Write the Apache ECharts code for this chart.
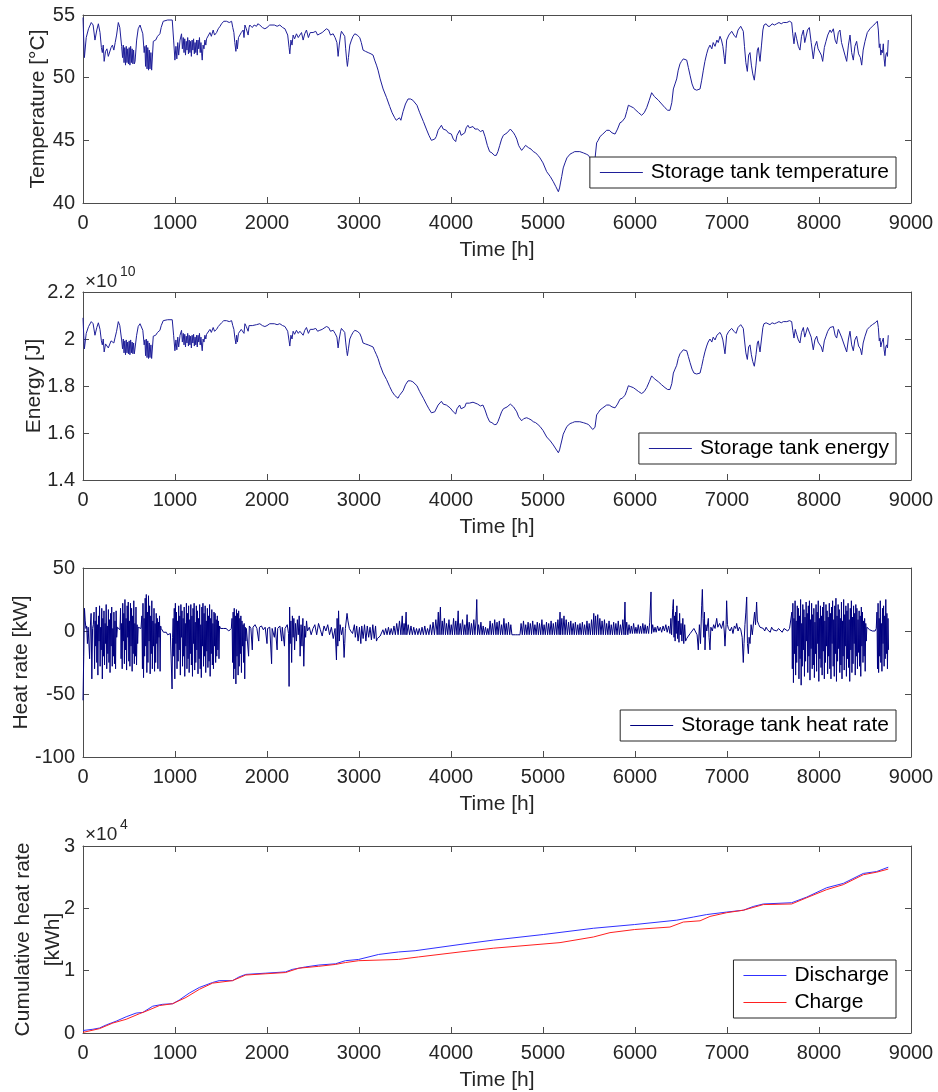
<!DOCTYPE html>
<html>
<head>
<meta charset="utf-8">
<script src="https://cdn.jsdelivr.net/npm/echarts@6/dist/echarts.min.js"></script>
<style>
  html, body { margin: 0; background: #fff; }
  #chart { width: 938px; height: 1092px; }
</style>
</head>
<body>
<div id="chart"></div>
<script>
// time axis shared by all four panels [min, max, interval]
const timeAxis = [0, 9000, 1000];
const tempAxis = [40, 55, 5];
const energyAxis = [1.4, 2.2, 0.2];
const heatAxis = [-100, 50, 50];
const cumAxis = [0, 30000, 10000];

// storage tank temperature [h, degC]
const tempData = [
  [0,54.8],[8,53.0],[15,51.6],[35,53.2],[60,53.9],[90,54.4],[110,54.2],[130,53.0],[150,53.8],[167,54.3],
  [185,53.6],[200,52.4],[210,52.0],[220,52.6],[230,51.3],[245,52.1],[260,52.3],[275,51.7],[290,51.8],[305,52.4],
  [320,52.6],[335,52.2],[350,52.8],[365,53.4],[384,54.4],[400,54.0],[420,52.5],[430,51.6],[438,52.6],[446,51.2],
  [454,52.4],[462,51.0],[470,52.5],[478,51.2],[486,52.3],[494,51.1],[502,52.4],[510,51.0],[518,52.5],[526,51.2],
  [534,52.3],[542,51.1],[550,52.2],[558,51.1],[566,51.3],[583,53.0],[600,53.9],[620,54.2],[637,54.3],[650,53.5],
  [665,52.0],[673,52.5],[680,50.9],[688,52.6],[696,50.7],[704,52.4],[712,50.6],[720,52.2],[728,50.7],[738,52.0],
  [746,50.6],[764,52.9],[790,53.0],[810,53.3],[836,53.5],[850,54.0],[872,54.5],[920,54.6],[970,54.6],[985,53.0],
  [999,51.4],[1010,52.5],[1020,51.5],[1030,52.8],[1040,51.8],[1055,53.0],[1071,53.5],[1080,52.3],[1090,53.2],[1098,52.0],
  [1106,53.1],[1114,51.8],[1122,52.9],[1130,52.2],[1138,53.2],[1146,51.9],[1154,53.0],[1162,52.0],[1170,52.9],[1178,51.7],
  [1186,53.0],[1194,52.2],[1202,53.1],[1210,51.9],[1218,52.8],[1226,52.0],[1234,53.0],[1242,51.8],[1250,53.0],[1258,52.3],
  [1266,53.2],[1274,52.0],[1282,52.8],[1290,51.9],[1296,51.4],[1305,52.6],[1315,52.3],[1325,53.0],[1335,52.6],[1343,53.1],
  [1361,53.2],[1380,53.6],[1395,53.3],[1415,53.8],[1430,53.4],[1452,53.6],[1470,53.9],[1490,54.1],[1506,54.3],[1530,54.5],
  [1560,54.5],[1590,54.4],[1615,54.5],[1628,54.0],[1640,53.6],[1650,52.8],[1662,52.1],[1670,53.0],[1678,52.3],[1690,53.2],
  [1705,53.1],[1720,53.6],[1741,53.8],[1750,53.2],[1760,54.2],[1775,53.9],[1795,53.4],[1805,54.0],[1813,54.2],[1840,54.0],
  [1860,54.2],[1886,54.1],[1900,54.3],[1922,54.2],[1950,54.0],[1977,53.9],[2000,54.0],[2030,54.2],[2049,54.3],[2080,54.2],
  [2110,54.1],[2139,54.2],[2170,54.0],[2195,53.9],[2212,53.8],[2225,53.4],[2240,52.4],[2248,51.9],[2260,53.0],[2272,52.6],
  [2284,53.4],[2300,53.1],[2320,53.5],[2340,53.2],[2357,53.4],[2375,53.6],[2393,53.0],[2410,53.5],[2429,53.8],[2450,53.2],
  [2470,53.6],[2501,53.6],[2530,53.7],[2550,53.4],[2574,53.5],[2600,53.6],[2620,53.7],[2646,53.9],[2670,53.8],[2690,53.4],
  [2719,53.5],[2740,53.2],[2760,52.8],[2773,51.7],[2785,52.6],[2800,53.4],[2809,53.7],[2825,53.6],[2845,53.3],[2855,52.3],
  [2866,51.4],[2874,50.9],[2885,51.6],[2900,52.6],[2918,53.0],[2935,53.3],[2954,53.5],[2980,53.4],[3008,53.2],[3025,52.8],
  [3044,52.2],[3070,52.1],[3100,52.0],[3130,51.9],[3153,51.8],[3170,51.4],[3190,51.0],[3207,50.6],[3230,49.9],[3262,49.1],
  [3300,48.4],[3334,47.7],[3360,47.2],[3388,46.8],[3405,46.6],[3424,46.5],[3440,46.8],[3455,46.6],[3479,47.3],[3505,47.9],
  [3533,48.3],[3560,48.3],[3585,48.2],[3606,48.2],[3630,47.8],[3660,47.2],[3700,46.5],[3732,45.9],[3760,45.4],[3787,45.0],
  [3805,44.9],[3823,45.1],[3840,45.3],[3860,45.8],[3880,45.7],[3896,46.2],[3915,45.9],[3935,46.0],[3950,45.8],[3970,45.6],
  [3990,45.5],[4004,45.5],[4025,45.1],[4040,45.0],[4051,44.9],[4065,45.4],[4080,45.3],[4094,45.8],[4110,45.4],[4130,45.3],
  [4150,45.6],[4165,46.0],[4184,46.2],[4200,46.0],[4220,46.1],[4239,46.1],[4260,45.9],[4290,45.9],[4320,45.7],[4347,45.8],
  [4370,45.3],[4395,44.6],[4420,44.1],[4445,44.0],[4470,43.8],[4492,43.8],[4510,44.1],[4530,44.6],[4550,45.1],[4569,45.4],
  [4590,45.4],[4610,45.6],[4630,45.6],[4645,45.9],[4660,45.8],[4680,45.6],[4696,45.4],[4715,45.1],[4735,44.6],[4750,44.4],
  [4768,44.2],[4790,44.4],[4810,44.6],[4823,44.5],[4845,44.4],[4870,44.3],[4895,44.1],[4920,44.0],[4945,43.8],[4967,43.6],
  [5000,43.2],[5040,42.5],[5080,42.1],[5112,41.7],[5140,41.3],[5167,40.9],[5180,41.2],[5190,41.6],[5203,42.1],[5220,42.8],
  [5239,43.2],[5260,43.6],[5294,43.9],[5320,44.0],[5345,44.1],[5366,44.1],[5400,44.1],[5438,44.0],[5470,43.9],[5495,43.8],
  [5511,43.6],[5540,43.3],[5565,43.5],[5583,44.8],[5600,45.0],[5620,45.3],[5650,45.5],[5692,45.8],[5720,45.8],[5750,45.6],
  [5783,45.5],[5810,45.9],[5837,46.4],[5860,46.5],[5891,46.8],[5910,47.3],[5928,47.8],[5955,47.7],[5982,47.6],[6010,47.4],
  [6040,47.2],[6072,47.0],[6100,47.2],[6127,47.6],[6155,48.2],[6181,48.8],[6210,48.5],[6254,48.2],[6290,47.9],[6326,47.6],
  [6355,47.4],[6380,47.4],[6400,48.0],[6417,49.1],[6435,49.5],[6453,49.9],[6470,50.6],[6489,51.1],[6505,51.3],[6525,51.5],
  [6545,51.5],[6562,51.4],[6580,50.8],[6598,50.2],[6620,49.5],[6641,49.1],[6670,49.0],[6707,49.1],[6725,49.8],[6743,50.6],
  [6760,51.3],[6779,51.9],[6795,52.3],[6815,52.6],[6835,52.3],[6850,52.8],[6870,52.5],[6890,53.0],[6905,52.8],[6924,53.3],
  [6940,53.0],[6955,52.5],[6970,51.6],[6978,51.1],[6990,52.3],[6996,53.0],[7020,53.4],[7051,53.7],[7075,53.4],[7098,53.2],
  [7120,53.8],[7149,54.1],[7165,54.0],[7177,53.7],[7190,52.5],[7205,51.2],[7221,50.5],[7235,51.8],[7250,52.0],[7265,51.0],
  [7280,50.3],[7297,49.8],[7315,51.0],[7330,52.2],[7341,52.4],[7350,51.8],[7359,51.3],[7375,52.6],[7390,53.8],[7402,54.2],
  [7425,54.3],[7445,54.1],[7467,54.1],[7490,54.3],[7515,54.2],[7540,54.3],[7565,54.4],[7590,54.3],[7612,54.4],[7650,54.4],
  [7680,54.5],[7703,54.4],[7715,53.5],[7728,52.7],[7742,53.6],[7757,53.1],[7775,52.5],[7793,52.2],[7810,53.3],[7830,53.8],
  [7845,52.8],[7859,52.9],[7875,53.8],[7895,54.0],[7915,52.8],[7938,51.5],[7955,52.5],[7975,52.9],[7990,52.3],[8011,52.2],
  [8025,51.8],[8040,51.3],[8058,52.4],[8076,52.9],[8095,53.4],[8120,53.8],[8135,53.6],[8156,53.9],[8175,53.0],[8192,52.7],
  [8210,53.6],[8228,53.8],[8245,52.8],[8264,52.9],[8282,51.8],[8301,51.3],[8320,52.6],[8337,53.4],[8355,52.0],[8373,51.4],
  [8390,52.5],[8409,52.9],[8430,51.9],[8450,51.6],[8464,51.0],[8480,52.2],[8500,52.9],[8525,53.6],[8554,53.9],[8580,54.1],
  [8610,54.3],[8634,54.5],[8645,53.8],[8655,52.4],[8663,52.7],[8672,51.8],[8681,52.2],[8690,52.0],[8699,52.7],[8708,51.5],
  [8717,50.9],[8726,51.8],[8735,52.0],[8744,51.7],[8753,53.0]
];

// storage tank energy [h, x1e10 J]
const energyData = [
  [0,2.090],[8,2.016],[15,1.958],[35,2.024],[60,2.053],[90,2.074],[110,2.065],[130,2.016],[150,2.049],[167,2.069],
  [185,2.041],[200,1.992],[210,1.975],[220,2.000],[230,1.945],[245,1.979],[260,1.987],[275,1.962],[290,1.966],[305,1.992],
  [320,2.000],[335,1.983],[350,2.008],[365,2.033],[384,2.074],[400,2.057],[420,1.996],[430,1.958],[438,2.000],[446,1.941],
  [454,1.992],[462,1.933],[470,1.996],[478,1.941],[486,1.987],[494,1.937],[502,1.992],[510,1.933],[518,1.996],[526,1.941],
  [534,1.987],[542,1.937],[550,1.983],[558,1.937],[566,1.945],[583,2.016],[600,2.053],[620,2.065],[637,2.069],[650,2.037],
  [665,1.975],[673,1.996],[680,1.929],[688,2.000],[696,1.921],[704,1.992],[712,1.917],[720,1.983],[728,1.921],[738,1.975],
  [746,1.917],[764,2.012],[790,2.016],[810,2.028],[836,2.037],[850,2.057],[872,2.078],[920,2.082],[970,2.082],[985,2.016],
  [999,1.950],[1010,1.996],[1020,1.954],[1030,2.008],[1040,1.966],[1055,2.016],[1071,2.037],[1080,1.987],[1090,2.024],[1098,1.975],
  [1106,2.020],[1114,1.966],[1122,2.012],[1130,1.983],[1138,2.024],[1146,1.970],[1154,2.016],[1162,1.975],[1170,2.012],[1178,1.962],
  [1186,2.016],[1194,1.983],[1202,2.020],[1210,1.970],[1218,2.008],[1226,1.975],[1234,2.016],[1242,1.966],[1250,2.016],[1258,1.987],
  [1266,2.024],[1274,1.975],[1282,2.008],[1290,1.970],[1296,1.950],[1305,2.000],[1315,1.987],[1325,2.016],[1335,2.000],[1343,2.020],
  [1361,2.024],[1380,2.041],[1395,2.028],[1415,2.049],[1430,2.033],[1452,2.041],[1470,2.053],[1490,2.061],[1506,2.069],[1530,2.078],
  [1560,2.078],[1590,2.074],[1615,2.078],[1628,2.057],[1640,2.041],[1650,2.008],[1662,1.979],[1670,2.016],[1678,1.987],[1690,2.024],
  [1705,2.020],[1720,2.041],[1741,2.049],[1750,2.024],[1760,2.065],[1775,2.053],[1795,2.033],[1805,2.057],[1813,2.065],[1840,2.057],
  [1860,2.065],[1886,2.061],[1900,2.069],[1922,2.065],[1950,2.057],[1977,2.053],[2000,2.057],[2030,2.065],[2049,2.069],[2080,2.065],
  [2110,2.061],[2139,2.065],[2170,2.057],[2195,2.053],[2212,2.049],[2225,2.033],[2240,1.992],[2248,1.970],[2260,2.016],[2272,2.000],
  [2284,2.033],[2300,2.020],[2320,2.037],[2340,2.024],[2357,2.033],[2375,2.041],[2393,2.016],[2410,2.037],[2429,2.049],[2450,2.024],
  [2470,2.041],[2501,2.041],[2530,2.045],[2550,2.033],[2574,2.037],[2600,2.041],[2620,2.045],[2646,2.053],[2670,2.049],[2690,2.033],
  [2719,2.037],[2740,2.024],[2760,2.008],[2773,1.962],[2785,2.000],[2800,2.033],[2809,2.045],[2825,2.041],[2845,2.028],[2855,1.987],
  [2866,1.950],[2874,1.929],[2885,1.958],[2900,2.000],[2918,2.016],[2935,2.028],[2954,2.037],[2980,2.033],[3008,2.024],[3025,2.008],
  [3044,1.983],[3070,1.979],[3100,1.975],[3130,1.970],[3153,1.966],[3170,1.950],[3190,1.933],[3207,1.917],[3230,1.888],[3262,1.855],
  [3300,1.827],[3334,1.797],[3360,1.776],[3388,1.760],[3405,1.752],[3424,1.748],[3440,1.760],[3455,1.752],[3479,1.780],[3505,1.805],
  [3533,1.822],[3560,1.822],[3585,1.818],[3606,1.818],[3630,1.801],[3660,1.776],[3700,1.748],[3732,1.723],[3760,1.703],[3787,1.686],
  [3805,1.681],[3823,1.690],[3840,1.698],[3860,1.719],[3880,1.715],[3896,1.735],[3915,1.723],[3935,1.727],[3950,1.719],[3970,1.711],
  [3990,1.707],[4004,1.707],[4025,1.690],[4040,1.686],[4051,1.681],[4065,1.703],[4080,1.698],[4094,1.719],[4110,1.703],[4130,1.698],
  [4150,1.711],[4165,1.727],[4184,1.735],[4200,1.727],[4220,1.731],[4239,1.731],[4260,1.723],[4290,1.723],[4320,1.715],[4347,1.719],
  [4370,1.698],[4395,1.669],[4420,1.648],[4445,1.644],[4470,1.636],[4492,1.636],[4510,1.648],[4530,1.669],[4550,1.690],[4569,1.703],
  [4590,1.703],[4610,1.711],[4630,1.711],[4645,1.723],[4660,1.719],[4680,1.711],[4696,1.703],[4715,1.690],[4735,1.669],[4750,1.661],
  [4768,1.652],[4790,1.661],[4810,1.669],[4823,1.665],[4845,1.661],[4870,1.656],[4895,1.648],[4920,1.644],[4945,1.636],[4967,1.628],
  [5000,1.611],[5040,1.583],[5080,1.566],[5112,1.549],[5140,1.532],[5167,1.516],[5180,1.528],[5190,1.545],[5203,1.566],[5220,1.595],
  [5239,1.611],[5260,1.628],[5294,1.640],[5320,1.644],[5345,1.648],[5366,1.648],[5400,1.648],[5438,1.644],[5470,1.640],[5495,1.636],
  [5511,1.628],[5540,1.615],[5565,1.624],[5583,1.677],[5600,1.686],[5620,1.698],[5650,1.707],[5692,1.719],[5720,1.719],[5750,1.711],
  [5783,1.707],[5810,1.723],[5837,1.744],[5860,1.748],[5891,1.760],[5910,1.780],[5928,1.801],[5955,1.797],[5982,1.793],[6010,1.785],
  [6040,1.776],[6072,1.768],[6100,1.776],[6127,1.793],[6155,1.818],[6181,1.843],[6210,1.831],[6254,1.818],[6290,1.805],[6326,1.793],
  [6355,1.785],[6380,1.785],[6400,1.810],[6417,1.855],[6435,1.872],[6453,1.888],[6470,1.917],[6489,1.937],[6505,1.945],[6525,1.954],
  [6545,1.954],[6562,1.950],[6580,1.925],[6598,1.900],[6620,1.872],[6641,1.855],[6670,1.851],[6707,1.855],[6725,1.884],[6743,1.917],
  [6760,1.945],[6779,1.970],[6795,1.987],[6815,2.000],[6835,1.987],[6850,2.008],[6870,1.996],[6890,2.016],[6905,2.008],[6924,2.028],
  [6940,2.016],[6955,1.996],[6970,1.958],[6978,1.937],[6990,1.987],[6996,2.016],[7020,2.033],[7051,2.045],[7075,2.033],[7098,2.024],
  [7120,2.049],[7149,2.061],[7165,2.057],[7177,2.045],[7190,1.996],[7205,1.941],[7221,1.913],[7235,1.966],[7250,1.975],[7265,1.933],
  [7280,1.904],[7297,1.884],[7315,1.933],[7330,1.983],[7341,1.992],[7350,1.966],[7359,1.945],[7375,2.000],[7390,2.049],[7402,2.065],
  [7425,2.069],[7445,2.061],[7467,2.061],[7490,2.069],[7515,2.065],[7540,2.069],[7565,2.074],[7590,2.069],[7612,2.074],[7650,2.074],
  [7680,2.078],[7703,2.074],[7715,2.037],[7728,2.004],[7742,2.041],[7757,2.020],[7775,1.996],[7793,1.983],[7810,2.028],[7830,2.049],
  [7845,2.008],[7859,2.012],[7875,2.049],[7895,2.057],[7915,2.008],[7938,1.954],[7955,1.996],[7975,2.012],[7990,1.987],[8011,1.983],
  [8025,1.966],[8040,1.945],[8058,1.992],[8076,2.012],[8095,2.033],[8120,2.049],[8135,2.041],[8156,2.053],[8175,2.016],[8192,2.004],
  [8210,2.041],[8228,2.049],[8245,2.008],[8264,2.012],[8282,1.966],[8301,1.945],[8320,2.000],[8337,2.033],[8355,1.975],[8373,1.950],
  [8390,1.996],[8409,2.012],[8430,1.970],[8450,1.958],[8464,1.933],[8480,1.983],[8500,2.012],[8525,2.041],[8554,2.053],[8580,2.061],
  [8610,2.069],[8634,2.078],[8645,2.049],[8655,1.992],[8663,2.004],[8672,1.966],[8681,1.983],[8690,1.975],[8699,2.004],[8708,1.954],
  [8717,1.929],[8726,1.966],[8735,1.975],[8744,1.962],[8753,2.016]
];

// storage tank heat rate [h, kW]
const heatData = [
  [0,-55],[8,-20],[16,18],[24,8],[32,2],[40,4],[48,-10],[56,3],[64,2],[72,-22],[80,4],[88,14],[96,-38],[104,2],[112,5],
  [120,15],[126,-30],[132,8],[138,-12],[144,19],[150,-25],[156,5],[162,-35],[168,12],[174,-8],[180,20],[186,-28],[192,3],[198,-15],
  [204,18],[210,-38],[216,10],[222,-20],[228,16],[234,-27],[240,6],[246,-10],[252,21],[258,-30],[264,4],[270,-18],[276,17],[282,-25],
  [288,9],[294,-33],[300,14],[306,-12],[312,19],[318,-28],[324,2],[330,-20],[336,15],[342,-26],[348,8],[354,-30],[360,16],[366,-5],
  [374,3],[384,2],[394,4],[402,1],
  [408,18],[414,-22],[420,6],[426,-30],[432,22],[438,-8],[444,14],[450,-26],[456,25],[462,-15],[468,10],[474,-31],[480,20],[486,-5],
  [492,23],[498,-24],[504,8],[510,-28],[516,22],[522,-12],[528,18],[534,-32],[540,12],[546,-18],[552,24],[558,-26],[564,6],[570,-20],
  [576,19],[582,-27],[588,5],[594,-10],[600,3],[610,2],[620,3],[630,2],
  [640,12],[646,-30],[652,22],[658,-37],[664,10],[670,-20],[676,26],[682,-12],[688,29],[694,-33],[700,15],[706,-25],[712,28],[718,-8],
  [724,20],[730,-34],[736,12],[742,-18],[748,24],[754,-30],[760,8],[766,-12],[772,18],[778,-32],[784,6],[790,-25],[796,14],[802,-10],
  [808,10],[814,-30],[820,7],[826,-5],[832,12],[838,-32],[844,4],[850,2],
  [860,1],[875,-1],[890,-2],[905,-1],[920,-3],[935,-2],[950,-2],[962,-1],[968,-46],[974,-5],
  [980,10],[986,-20],[992,18],[998,-38],[1004,22],[1010,-10],[1016,15],[1022,-30],[1028,8],[1034,-24],[1040,20],[1046,-15],[1052,12],
  [1058,-35],[1064,21],[1070,-5],[1076,16],[1082,-28],[1088,10],[1094,-20],[1100,19],[1106,-36],[1112,6],[1118,-12],[1124,22],[1130,-30],
  [1136,14],[1142,-22],[1148,20],[1154,-33],[1160,9],[1166,-18],[1172,21],[1178,-27],[1184,12],[1190,-36],[1196,18],[1202,-10],[1208,22],
  [1214,-31],[1220,7],[1226,-25],[1232,20],[1238,-15],[1244,16],[1250,-34],[1256,10],[1262,-22],[1268,21],[1274,-30],[1280,5],[1286,-37],
  [1292,19],[1298,-12],[1304,22],[1310,-28],[1316,14],[1322,-20],[1328,20],[1334,-33],[1340,8],[1346,-16],[1352,18],[1358,-29],[1364,12],
  [1370,-24],[1376,21],[1382,-36],[1388,10],[1394,-18],[1400,17],[1406,-27],[1412,6],[1418,-30],[1424,15],[1430,-12],[1436,14],[1442,-25],
  [1448,9],[1454,-20],[1460,12],[1466,-15],[1472,8],[1478,-22],[1484,4],
  [1495,2],[1510,3],[1525,2],[1540,1],[1555,2],[1570,1],[1585,0],[1600,1],[1612,2],
  [1620,10],[1626,-25],[1632,15],[1638,-38],[1644,18],[1650,-30],[1656,12],[1662,-42],[1668,17],[1674,-20],[1680,14],[1686,-35],[1692,16],
  [1698,-28],[1704,10],[1710,-18],[1716,12],[1722,-33],[1728,8],[1734,-12],[1740,5],[1746,-25],[1752,6],[1758,-38],[1764,3],[1770,-8],[1776,2],
  [1790,3],[1800,-20],[1808,4],[1825,2],[1840,-15],[1848,3],[1870,5],[1890,2],[1910,-8],[1918,3],[1940,4],[1960,1],[1980,3],[2000,-10],
  [2006,2],[2030,3],[2050,-26],[2056,2],[2080,-5],[2090,3],[2110,-15],[2116,2],[2140,4],[2160,-8],[2166,3],[2190,-12],[2196,2],[2220,5],
  [2234,-2],[2240,-44],[2246,19],[2252,-10],[2260,8],[2268,-25],[2276,12],[2284,-5],[2292,10],[2300,-15],[2310,6],[2320,-8],[2330,9],
  [2340,-3],[2350,12],[2360,-20],[2370,5],[2380,-12],[2390,10],[2400,-28],[2410,4],[2420,-5],[2430,8],[2440,0],[2460,3],[2480,-3],[2500,2],
  [2520,5],[2540,-3],[2560,6],[2580,1],[2600,-4],[2620,4],[2640,0],[2660,5],[2680,-3],[2700,3],[2720,-6],[2740,2],
  [2755,-23],[2762,10],[2770,-12],[2778,16],[2786,-8],[2795,5],[2810,-3],[2825,3],[2838,-21],[2845,-10],[2852,2],[2870,14],[2880,8],
  [2895,2],[2910,0],[2930,-2],[2950,5],[2960,-5],[2975,4],[2990,-8],[3005,3],[3020,-10],[3030,4],[3045,-6],[3060,5],[3075,-8],[3090,4],
  [3105,-5],[3120,3],[3135,-7],[3150,5],[3165,-6],[3180,4],[3190,-8],[3200,-6],[3215,-5],[3230,-4],
  [3245,-3],[3260,1],[3275,-3],[3290,2],[3305,-3],[3320,3],[3335,-3],[3350,2],[3365,-3],[3380,4],[3395,-3],[3410,6],[3425,-3],[3440,8],
  [3455,-3],[3470,12],[3478,-3],[3490,6],[3500,-3],[3512,15],[3520,-3],[3535,5],[3550,-3],[3565,4],[3580,-3],[3595,3],[3610,-3],[3625,2],
  [3640,-3],[3655,2],[3670,-3],[3685,3],[3700,-3],[3715,4],[3730,-3],[3745,2],[3760,-3],[3775,5],[3790,-3],[3805,7],[3820,-3],[3835,9],
  [3850,-3],[3862,15],[3870,-3],[3885,19],[3892,-3],[3905,8],[3915,-3],[3928,10],[3940,-3],[3952,6],[3965,-3],[3978,9],[3990,-3],[4003,5],
  [4015,-3],[4028,10],[4040,-3],[4052,8],[4065,-3],[4078,16],[4086,-3],[4100,6],[4112,-3],[4125,9],[4138,-3],[4150,5],[4162,-3],[4175,13],
  [4184,-3],[4198,7],[4210,-3],[4222,6],[4235,-3],[4248,9],[4260,-3],[4272,8],[4280,25],[4288,-3],[4300,5],[4312,-3],[4325,7],[4338,-3],
  [4350,4],[4362,-3],[4375,3],[4388,-3],[4400,2],[4412,-3],[4425,8],[4438,-3],[4450,6],[4462,-3],[4475,9],[4488,-3],[4500,7],[4512,-3],
  [4525,8],[4538,-3],[4550,5],[4562,-3],[4575,10],[4588,-3],[4600,6],[4612,-3],[4625,7],[4638,-3],[4650,5],[4662,-3],[4675,-3],[4700,-3],
  [4725,-3],[4750,-3],[4762,6],[4775,-3],[4788,8],[4800,-3],[4812,5],[4825,-3],[4838,7],[4850,-3],[4862,6],[4875,-3],[4888,8],[4900,-3],
  [4912,5],[4925,-3],[4938,7],[4950,-3],[4962,6],[4975,-3],[4988,9],[5000,-3],[5012,5],[5025,-3],[5038,7],[5050,-3],[5062,6],[5075,-3],
  [5088,8],[5100,-3],[5112,6],[5125,-3],[5138,7],[5150,-3],[5162,9],[5175,-3],[5185,15],[5192,-3],[5205,10],[5215,-3],[5228,12],[5240,-3],
  [5252,9],[5265,-3],[5278,7],[5290,-3],[5302,8],[5315,-3],[5328,6],[5340,-3],[5352,7],[5365,-3],[5378,5],[5390,-3],[5402,6],[5415,-3],
  [5428,7],[5440,-3],[5452,5],[5465,-3],[5478,8],[5490,-3],[5502,6],[5515,-3],[5528,9],[5540,-3],[5552,14],[5560,-3],[5572,12],[5582,-3],
  [5595,13],[5605,-3],[5618,10],[5630,-3],[5642,8],[5655,-3],[5668,9],[5680,-3],[5692,6],[5705,-3],[5718,8],[5730,-3],[5742,5],[5755,-3],
  [5768,7],[5780,-3],[5792,6],[5805,-3],[5818,8],[5830,-3],[5842,5],[5855,-3],[5868,9],[5880,-3],[5891,23],[5898,-3],[5910,7],[5922,-3],
  [5935,5],[5948,-2],[5960,4],[5972,-2],[5985,6],[5998,-2],[6010,3],[6022,-2],[6035,5],[6048,-2],[6060,4],[6072,-2],[6085,6],[6098,-2],
  [6110,5],[6122,-2],[6135,4],[6148,-2],[6160,7],[6174,31],[6180,-2],[6192,5],[6205,-1],[6218,3],[6230,-1],[6245,4],[6260,0],[6275,3],
  [6290,-1],[6305,4],[6320,0],[6335,5],[6350,-1],[6365,4],[6380,-2],[6390,10],[6398,-3],[6410,18],[6417,25],[6424,-5],[6430,12],[6436,-8],
  [6442,15],[6448,-2],[6455,20],[6462,-6],[6470,8],[6478,-9],[6485,14],[6492,-3],[6500,6],[6510,-8],[6520,10],[6530,-10],[6540,5],[6550,-8],
  [6562,-6],[6580,-4],[6600,-2],[6620,0],[6640,2],[6660,3],[6675,-3],[6688,-15],[6700,5],[6712,-10],[6725,20],[6732,33],[6740,10],[6748,-5],
  [6755,15],[6761,-15],[6770,5],[6780,0],[6797,10],[6805,-5],[6815,-15],[6825,3],[6840,0],[6855,5],[6870,2],[6888,10],[6900,3],[6920,6],
  [6940,2],[6960,8],[6970,0],[6978,-12],[6990,5],[6996,24],[7005,5],[7015,2],[7033,0],[7050,3],[7065,-2],[7080,4],[7095,2],[7105,6],
  [7120,0],[7135,3],[7150,1],[7165,-5],[7177,-25],[7185,-10],[7195,5],[7205,15],[7214,27],[7222,-10],[7232,-18],[7240,-5],[7250,-10],
  [7262,5],[7275,-3],[7290,8],[7300,15],[7310,5],[7322,23],[7330,8],[7345,5],[7359,3],[7375,2],[7395,2],[7410,0],[7425,3],[7440,1],
  [7455,2],[7470,-1],[7485,3],[7500,1],[7520,2],[7540,0],[7560,2],[7580,1],[7600,-1],[7620,2],[7640,1],[7660,0],[7680,2],[7695,1],
  [7705,15],[7710,-30],[7716,22],[7722,-41],[7728,10],[7734,-18],[7740,24],[7746,-35],[7752,8],[7758,-25],[7764,20],[7770,-12],[7776,18],
  [7782,-38],[7788,12],[7794,-22],[7800,25],[7806,-43],[7812,6],[7818,-28],[7824,21],[7830,-15],[7836,17],[7842,-36],[7848,11],[7854,-24],
  [7860,23],[7866,-8],[7872,14],[7878,-33],[7884,20],[7890,-20],[7896,24],[7902,-39],[7908,9],[7914,-14],[7920,22],[7926,-30],[7932,13],
  [7938,-27],[7944,18],[7950,-37],[7956,7],[7962,-18],[7968,21],[7974,-32],[7980,15],[7986,-10],[7992,24],[7998,-40],[8004,10],[8010,-22],
  [8016,20],[8022,-29],[8028,12],[8034,-35],[8040,19],[8046,-16],[8052,23],[8058,-38],[8064,8],[8070,-25],[8076,21],[8082,-12],[8088,16],
  [8094,-34],[8100,11],[8106,-20],[8112,22],[8118,-30],[8124,14],[8130,-38],[8136,19],[8142,-10],[8148,24],[8154,-28],[8160,9],[8166,-36],
  [8172,20],[8178,-18],[8184,26],[8190,-40],[8196,12],[8202,-24],[8208,21],[8214,-14],[8220,17],[8226,-33],[8232,10],[8238,-27],[8244,23],
  [8250,-38],[8256,8],[8262,-20],[8268,25],[8274,-31],[8280,13],[8286,-12],[8292,20],[8298,-36],[8304,16],[8310,-22],[8316,22],[8322,-29],
  [8328,9],[8334,-40],[8340,18],[8346,-15],[8352,24],[8358,-33],[8364,11],[8370,-26],[8376,20],[8382,-10],[8388,14],[8394,-35],[8400,21],
  [8406,-20],[8412,18],[8418,-30],[8424,9],[8430,-17],[8436,16],[8442,-28],[8448,12],[8454,-36],[8460,19],[8466,-12],[8472,15],[8478,-25],
  [8484,8],[8490,-20],[8496,10],[8502,-32],[8508,6],[8514,-8],[8520,3],
  [8535,2],[8550,1],[8565,2],[8580,0],[8595,1],[8610,0],[8622,2],
  [8630,15],[8636,-30],[8642,22],[8648,-33],[8654,10],[8660,-20],[8666,24],[8672,-25],[8678,6],[8684,-32],[8690,18],[8696,-10],[8702,20],
  [8708,-28],[8714,12],[8720,-22],[8726,25],[8732,-18],[8738,14],[8744,-30],[8750,10],[8756,-15]
];

// cumulative heat [h, kWh]
const dischargeData = [
  [0,400],[108,600],[180,800],[253,1300],[361,1900],[469,2600],[578,3200],[650,3300],[758,4300],[866,4600],
  [975,4700],[1047,5300],[1155,6400],[1264,7300],[1408,8100],[1480,8400],[1625,8400],[1697,9000],[1769,9400],[1986,9600],
  [2202,9800],[2274,10200],[2419,10600],[2563,10900],[2744,11100],[2852,11600],[2996,11800],[3213,12600],[3430,13000],[3610,13200],
  [4098,14200],[4460,14900],[5004,15800],[5547,16800],[5996,17400],[6453,18100],[6634,18600],[6779,19000],[6996,19400],[7178,19700],
  [7286,20300],[7395,20700],[7703,20900],[7866,21800],[8083,23300],[8264,24000],[8482,25600],[8627,25900],[8753,26600]
];
const chargeData = [
  [0,100],[180,700],[325,1600],[469,2200],[614,3100],[686,3500],[830,4400],[975,4700],[1119,5700],[1264,7000],
  [1408,8000],[1625,8400],[1769,9300],[2202,9700],[2347,10400],[2563,10700],[2744,11000],[2852,11300],[2996,11600],[3430,11800],
  [3646,12200],[4098,13000],[4460,13600],[5185,14500],[5547,15400],[5728,16100],[5996,16600],[6380,17000],[6525,17800],[6707,18000],
  [6815,18700],[6996,19300],[7178,19700],[7395,20600],[7703,20700],[7866,21700],[8083,23000],[8264,23800],[8482,25400],[8627,25800],
  [8753,26300]
];

const FONT = "'Liberation Sans', Arial, Helvetica, sans-serif";
const AXIS_COLOR = "#4d4d4d";
const TEXT_COLOR = "#262626";

const gridTops = [15, 292, 568, 846];
const gridHeights = [188, 188, 189, 187];

const grids = gridTops.map((t, i) => ({
  left: 83, width: 828, top: t, height: gridHeights[i],
  containLabel: false, outerBoundsMode: "none"
}));

function xAxes(i) {
  const common = {
    type: "value", gridIndex: i, min: timeAxis[0], max: timeAxis[1], interval: timeAxis[2],
    splitLine: { show: false },
    axisLine: { show: true, onZero: false, lineStyle: { color: AXIS_COLOR, width: 1 } },
    axisTick: { show: true, inside: true, length: 6, lineStyle: { color: AXIS_COLOR } },
  };
  return [
    Object.assign({}, common, {
      position: "bottom",
      name: "Time [h]", nameLocation: "middle", nameGap: 37, nameMoveOverlap: false,
      nameTextStyle: { fontFamily: FONT, fontSize: 21, color: TEXT_COLOR },
      axisLabel: { fontFamily: FONT, fontSize: 20, color: TEXT_COLOR, margin: 10, formatter: (v) => String(v) },
    }),
    Object.assign({}, common, { position: "top", axisLabel: { show: false } }),
  ];
}

function yAxes(i, range, name, gap, fmt) {
  const common = {
    type: "value", gridIndex: i, min: range[0], max: range[1], interval: range[2],
    splitLine: { show: false },
    axisLine: { show: true, onZero: false, lineStyle: { color: AXIS_COLOR, width: 1 } },
    axisTick: { show: true, inside: true, length: 6, lineStyle: { color: AXIS_COLOR } },
  };
  return [
    Object.assign({}, common, {
      position: "left",
      name: name, nameLocation: "middle", nameGap: gap, nameMoveOverlap: false,
      nameTextStyle: { fontFamily: FONT, fontSize: 21, color: TEXT_COLOR, lineHeight: 30 },
      axisLabel: { fontFamily: FONT, fontSize: 20, color: TEXT_COLOR, margin: 8, formatter: fmt || ((v) => String(v)) },
    }),
    Object.assign({}, common, { position: "right", axisLabel: { show: false } }),
  ];
}

function legendAt(right, top, names) {
  return {
    right: right, top: top, orient: "vertical",
    data: names,
    icon: "rect",
    backgroundColor: "#fff", borderColor: "#262626", borderWidth: 1, borderRadius: 0,
    padding: [5, 7, 5, 10], itemGap: 6, itemWidth: 43, itemHeight: 1,
    textStyle: { fontFamily: FONT, fontSize: 21, color: "#000", padding: [0, 0, 0, 3], lineHeight: 21 },
  };
}

function lineSeries(name, data, xi, yi, color) {
  return {
    name: name, type: "line", data: data, xAxisIndex: xi, yAxisIndex: yi,
    symbol: "none", showSymbol: false, sampling: null, animation: false,
    lineStyle: { color: color, width: 1 }, itemStyle: { color: color },
    emphasis: { disabled: true }, z: 3,
  };
}

const option = {
  backgroundColor: "#fff",
  animation: false,
  grid: grids,
  xAxis: [].concat(xAxes(0), xAxes(1), xAxes(2), xAxes(3)),
  yAxis: [].concat(
    yAxes(0, tempAxis, "Temperature [°C]", 30),
    yAxes(1, energyAxis, "Energy [J]", 34, (v) => String(+v.toFixed(1))),
    yAxes(2, heatAxis, "Heat rate [kW]", 47),
    yAxes(3, cumAxis, "Cumulative heat rate\n[kWh]", 15, (v) => String(v / 10000))
  ),
  legend: [
    legendAt(42, 157, ["Storage tank temperature"]),
    legendAt(42, 433, ["Storage tank energy"]),
    legendAt(42, 710, ["Storage tank heat rate"]),
    legendAt(42, 960, ["Discharge", "Charge"]),
  ],
  graphic: [
    { type: "text", left: 85, top: 272, style: { text: "×10", font: "19px " + FONT, fill: TEXT_COLOR } },
    { type: "text", left: 120, top: 265, style: { text: "10", font: "14px " + FONT, fill: TEXT_COLOR } },
    { type: "text", left: 85, top: 825, style: { text: "×10", font: "19px " + FONT, fill: TEXT_COLOR } },
    { type: "text", left: 120, top: 818, style: { text: "4", font: "14px " + FONT, fill: TEXT_COLOR } },
  ],
  series: [
    lineSeries("Storage tank temperature", tempData, 0, 0, "#1f1f99"),
    lineSeries("Storage tank energy", energyData, 2, 2, "#1f1f99"),
    lineSeries("Storage tank heat rate", heatData, 4, 4, "#00007f"),
    lineSeries("Discharge", dischargeData, 6, 6, "#3030ff"),
    lineSeries("Charge", chargeData, 6, 6, "#ff2020"),
  ],
};

const chart = echarts.init(document.getElementById("chart"), null, { renderer: "canvas" });
chart.setOption(option);
</script>
</body>
</html>
